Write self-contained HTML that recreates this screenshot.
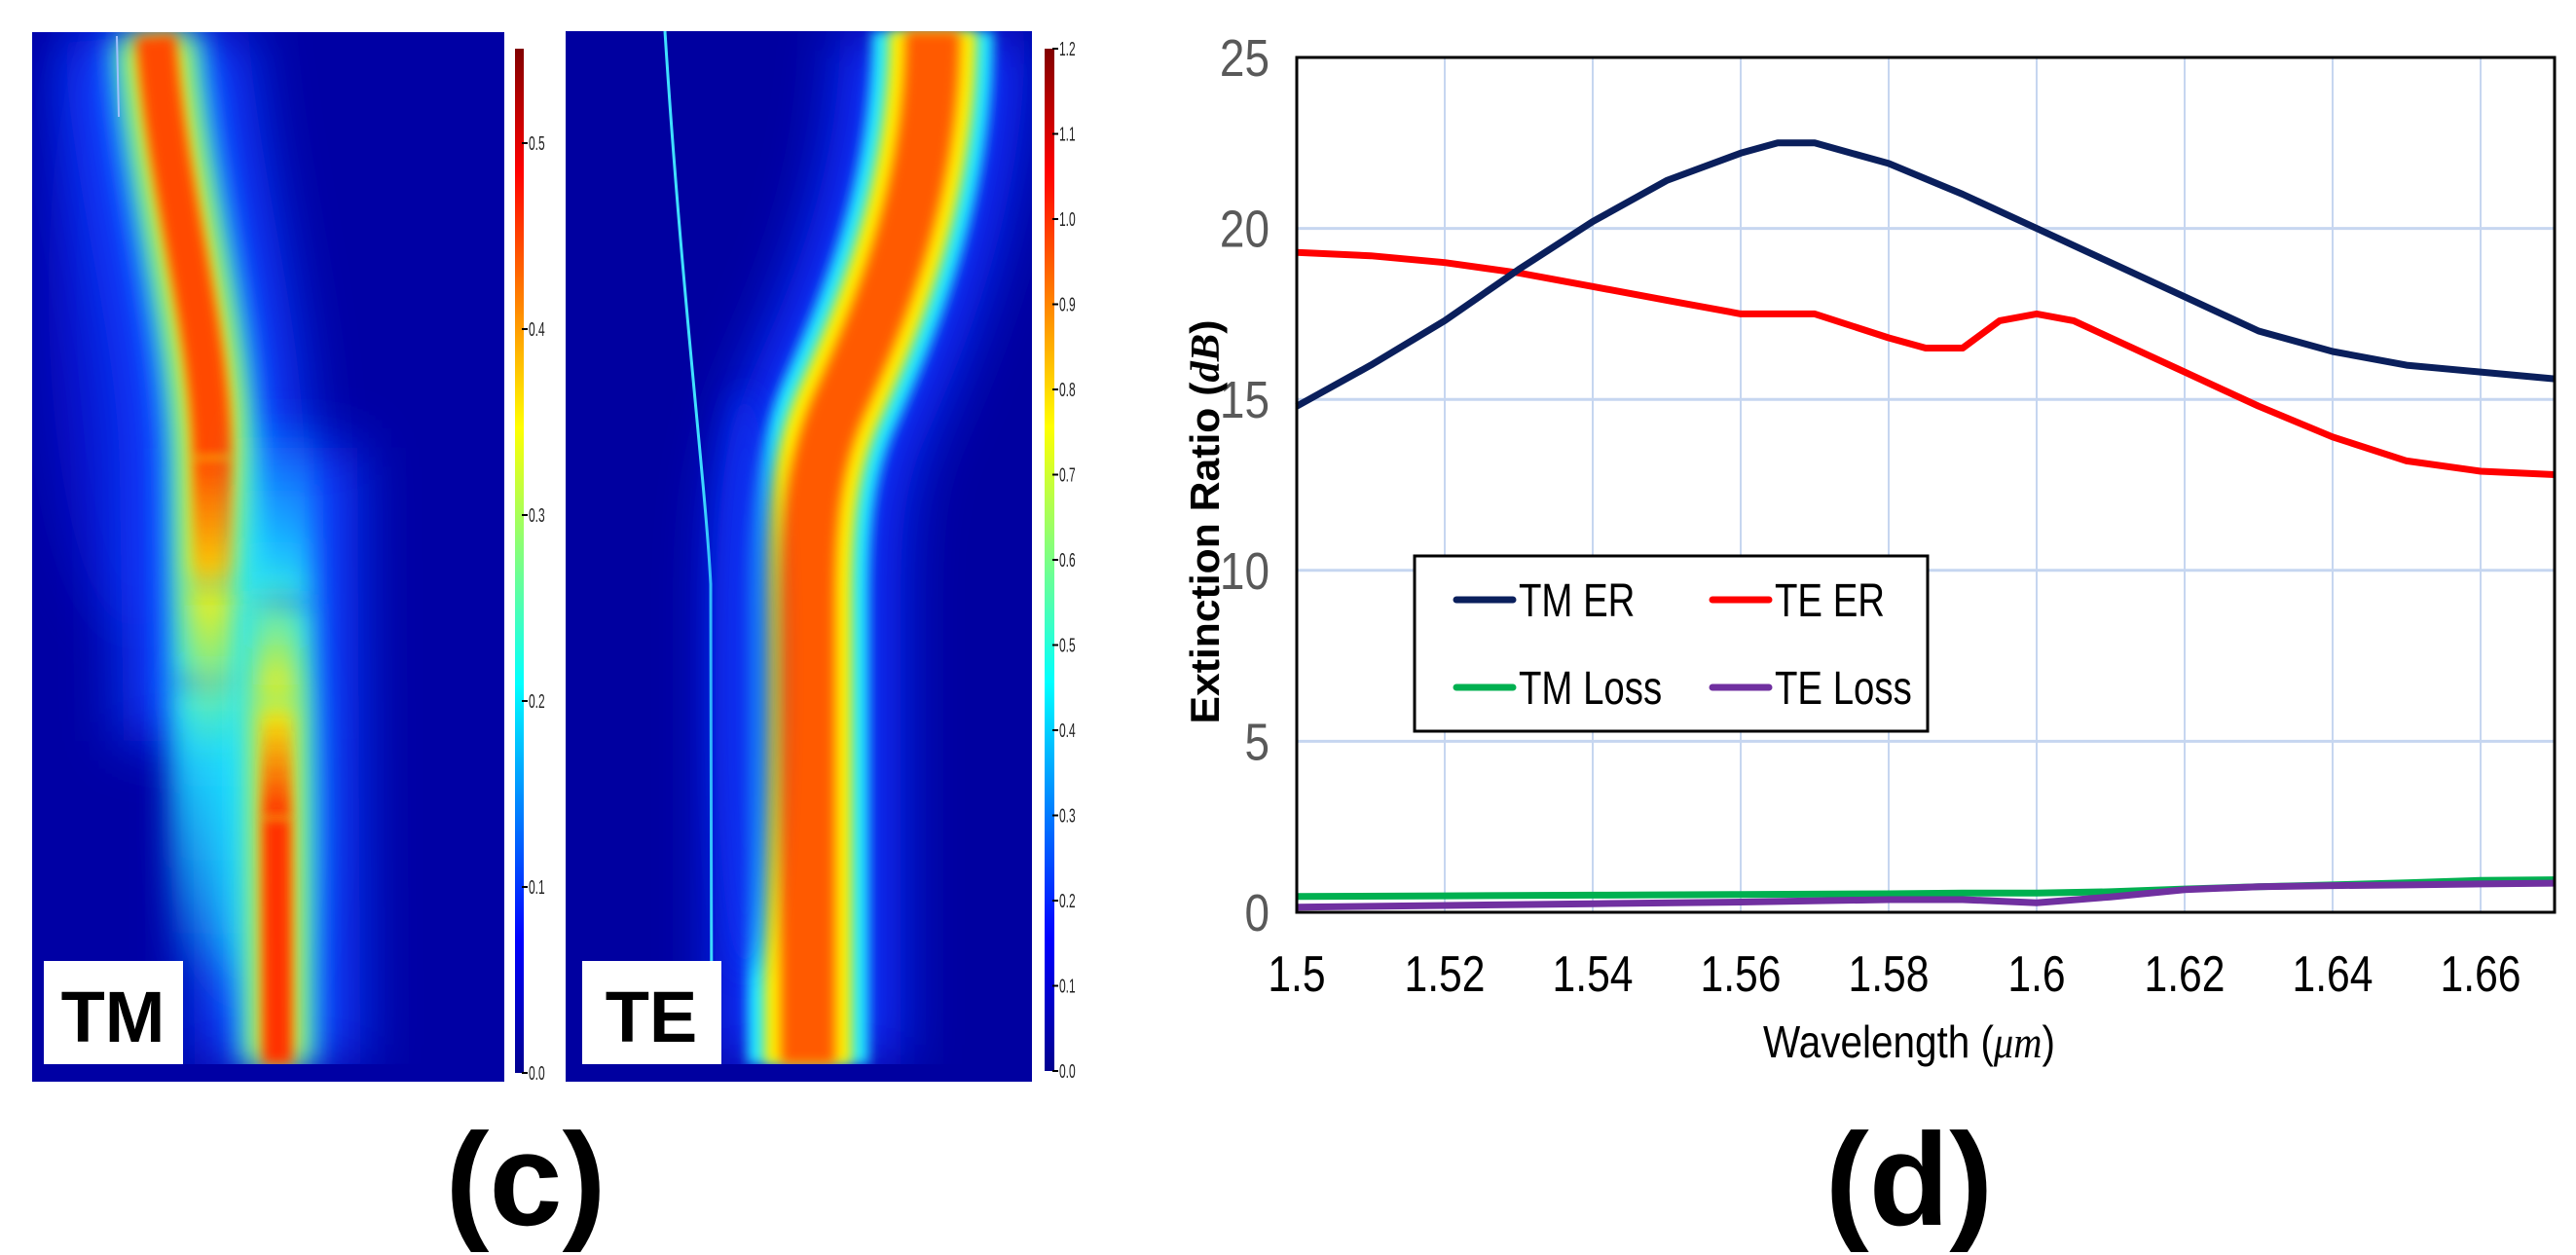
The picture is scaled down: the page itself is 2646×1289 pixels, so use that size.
<!DOCTYPE html>
<html><head><meta charset="utf-8"><style>
html,body{margin:0;padding:0;background:#fff;}
svg{display:block;}
text{font-family:"Liberation Sans",sans-serif;}
</style></head><body>
<svg id="root" width="2646" height="1289" viewBox="0 0 2646 1289" xmlns="http://www.w3.org/2000/svg">
<defs>
  <filter id="b6" filterUnits="userSpaceOnUse" x="0" y="0" width="1100" height="1200"><feGaussianBlur stdDeviation="6"/></filter>
  <filter id="b14" filterUnits="userSpaceOnUse" x="0" y="0" width="1100" height="1200"><feGaussianBlur stdDeviation="14"/></filter>
  <filter id="b30" filterUnits="userSpaceOnUse" x="0" y="0" width="1100" height="1200"><feGaussianBlur stdDeviation="30"/></filter>
  <clipPath id="clipTM"><rect x="33" y="33" width="485" height="1078"/></clipPath>
  <clipPath id="clipTE"><rect x="581" y="32" width="479" height="1079"/></clipPath>
  <linearGradient id="jet" x1="0" y1="0" x2="0" y2="1">
    <stop offset="0" stop-color="#800000"/><stop offset="0.12" stop-color="#ff0000"/>
    <stop offset="0.37" stop-color="#ffff00"/><stop offset="0.62" stop-color="#00ffff"/>
    <stop offset="0.87" stop-color="#0000ff"/><stop offset="1" stop-color="#00008f"/>
  </linearGradient>
  <linearGradient id="upRed" gradientUnits="userSpaceOnUse" x1="0" y1="470" x2="0" y2="620"><stop offset="0" stop-color="#ff4a00"/><stop offset="1" stop-color="#ff4a00" stop-opacity="0"/></linearGradient>
  <linearGradient id="upYel" gradientUnits="userSpaceOnUse" x1="0" y1="600" x2="0" y2="780"><stop offset="0" stop-color="#ffee00"/><stop offset="1" stop-color="#c0f040" stop-opacity="0"/></linearGradient>
  <linearGradient id="upCyan" gradientUnits="userSpaceOnUse" x1="0" y1="720" x2="0" y2="1000"><stop offset="0" stop-color="#20e8ff"/><stop offset="1" stop-color="#20e8ff" stop-opacity="0"/></linearGradient>
  <linearGradient id="lowCyan" gradientUnits="userSpaceOnUse" x1="0" y1="420" x2="0" y2="620"><stop offset="0" stop-color="#20e8ff" stop-opacity="0"/><stop offset="1" stop-color="#20e8ff"/></linearGradient>
  <linearGradient id="lowYel" gradientUnits="userSpaceOnUse" x1="0" y1="580" x2="0" y2="720"><stop offset="0" stop-color="#c0f040" stop-opacity="0"/><stop offset="1" stop-color="#ffee00"/></linearGradient>
  <linearGradient id="lowRed" gradientUnits="userSpaceOnUse" x1="0" y1="730" x2="0" y2="840"><stop offset="0" stop-color="#ff3000" stop-opacity="0"/><stop offset="1" stop-color="#ff3000"/></linearGradient>
</defs>

<!-- TM field map -->
<g clip-path="url(#clipTM)">
  <rect x="33" y="33" width="485" height="1078" fill="#0000a4"/>
  <ellipse cx="140" cy="300" rx="90" ry="350" fill="#0a1ee0" filter="url(#b30)" opacity="0.7"/>
  <path d="M160,37 C172,200 215,330 218,480 L222,760" stroke="#1040ff" stroke-width="190" fill="none" filter="url(#b30)"/>
  <path d="M282,460 L285,1093" stroke="#1040ff" stroke-width="170" fill="none" filter="url(#b30)"/>
  <ellipse cx="255" cy="830" rx="50" ry="190" fill="#20c8f0" filter="url(#b30)" opacity="0.9"/>
  <path d="M160,37 C172,200 215,330 218,480 L222,700" stroke="#20e8ff" stroke-width="95" fill="none" filter="url(#b14)"/>
  <path d="M222,700 L225,1000" stroke="url(#upCyan)" stroke-width="95" fill="none" filter="url(#b14)"/>
  <path d="M160,37 C172,200 215,330 218,480 L220,600" stroke="#ffee00" stroke-width="62" fill="none" filter="url(#b14)"/>
  <path d="M220,600 L222,790" stroke="url(#upYel)" stroke-width="62" fill="none" filter="url(#b14)"/>
  <path d="M160,37 C172,200 215,330 218,470" stroke="#ff4a00" stroke-width="40" fill="none" filter="url(#b6)"/>
  <path d="M218,470 L220,630" stroke="url(#upRed)" stroke-width="40" fill="none" filter="url(#b6)"/>
  <path d="M282,420 L283,620" stroke="url(#lowCyan)" stroke-width="80" fill="none" filter="url(#b14)"/>
  <path d="M283,620 L285,1093" stroke="#20e8ff" stroke-width="80" fill="none" filter="url(#b14)"/>
  <path d="M283,580 L284,720" stroke="url(#lowYel)" stroke-width="48" fill="none" filter="url(#b14)"/>
  <path d="M284,720 L285,1093" stroke="#ffee00" stroke-width="48" fill="none" filter="url(#b14)"/>
  <path d="M284,730 L284,840" stroke="url(#lowRed)" stroke-width="30" fill="none" filter="url(#b6)"/>
  <path d="M284,840 L285,1093" stroke="#ff3000" stroke-width="30" fill="none" filter="url(#b6)"/>
  <rect x="33" y="1093" width="485" height="20" fill="#0000a4"/>
  <path d="M120,37 L122,120" stroke="#a0c0ff" stroke-width="2" fill="none"/>
</g>
<rect x="45" y="987" width="143" height="106" fill="#fff"/>
<text x="116" y="1070" font-size="74" font-weight="bold" text-anchor="middle" fill="#000">TM</text>
<rect x="529" y="50" width="9" height="1052" fill="url(#jet)"/>
<g id="tmTicks"></g>

<!-- TE field map -->
<g clip-path="url(#clipTE)">
  <rect x="581" y="32" width="479" height="1079" fill="#0000a0"/>
  <path d="M958,32 C958,200 900,330 860,420 C835,480 830,540 830,620 L830,1093" stroke="#0a30ff" stroke-width="190" fill="none" filter="url(#b30)"/>
  <path d="M958,32 C958,200 900,330 860,420 C835,480 830,540 830,620 L830,1093" stroke="#20e8ff" stroke-width="125" fill="none" filter="url(#b6)"/>
  <path d="M958,32 C958,200 900,330 860,420 C835,480 830,540 830,620 L830,1093" stroke="#ffee00" stroke-width="90" fill="none" filter="url(#b6)"/>
  <path d="M958,32 C958,200 900,330 860,420 C835,480 830,540 830,620 L830,1093" stroke="#ff5a00" stroke-width="55" fill="none" filter="url(#b6)"/>
  <path d="M683,32 C700,300 725,500 730,600 L731,1093" stroke="#40e0ff" stroke-width="3" fill="none"/>
  <ellipse cx="765" cy="700" rx="30" ry="300" fill="#0a30f0" filter="url(#b14)" opacity="0.7"/>
  <rect x="581" y="1093" width="479" height="20" fill="#0000a0"/>
</g>
<rect x="598" y="987" width="143" height="106" fill="#fff"/>
<text x="669" y="1070" font-size="74" font-weight="bold" text-anchor="middle" fill="#000">TE</text>
<rect x="1073" y="50" width="10" height="1050" fill="url(#jet)"/>
<g id="teTicks"></g>

<text x="540" y="1258" font-size="135" font-weight="bold" text-anchor="middle" fill="#000">(c)</text>
<text x="1961" y="1258" font-size="135" font-weight="bold" text-anchor="middle" fill="#000">(d)</text>

<!-- Chart -->
<g id="chart">
  <g id="grid"></g>
  <g id="series"></g>
  <rect x="1332" y="59" width="1292" height="878" fill="none" stroke="#000" stroke-width="3"/>
  <g id="yticks"></g>
  <g id="xticks"></g>
  <text transform="translate(1252,536) rotate(-90)" font-size="42" font-weight="bold" text-anchor="middle" textLength="415" lengthAdjust="spacingAndGlyphs" fill="#000">Extinction Ratio (<tspan font-family="Liberation Serif,serif" font-style="italic">dB</tspan>)</text>
  <text x="1961" y="1086" font-size="46" text-anchor="middle" fill="#000" transform="translate(1961,0) scale(0.88,1) translate(-1961,0)">Wavelength (<tspan font-family="Liberation Serif,serif" font-style="italic">μm</tspan>)</text>
  <g>
    <rect x="1453" y="571" width="527" height="180" fill="#fff" stroke="#000" stroke-width="3"/>
    <g id="legendItems"></g>
  </g>
</g>
</svg>
<script>
const wl = [1.5,1.51,1.52,1.53,1.54,1.55,1.56,1.565,1.57,1.58,1.59,1.6,1.61,1.62,1.63,1.64,1.65,1.66,1.67];
const tmER = [14.8,16.0,17.3,18.8,20.2,21.4,22.2,22.5,22.5,21.9,21.0,20.0,19.0,18.0,17.0,16.4,16.0,15.8,15.6];
const wlTE = [1.5,1.51,1.52,1.53,1.54,1.55,1.56,1.57,1.58,1.585,1.59,1.595,1.6,1.605,1.61,1.62,1.63,1.64,1.65,1.66,1.67];
const teER = [19.3,19.2,19.0,18.7,18.3,17.9,17.5,17.5,16.8,16.5,16.5,17.3,17.5,17.3,16.8,15.8,14.8,13.9,13.2,12.9,12.8];
const wlLoss = [1.5,1.52,1.54,1.56,1.58,1.59,1.6,1.61,1.62,1.63,1.64,1.65,1.66,1.67];
const tmLoss = [0.46,0.48,0.5,0.52,0.54,0.56,0.56,0.6,0.68,0.75,0.8,0.86,0.93,0.95];
const teLoss = [0.15,0.2,0.25,0.3,0.37,0.37,0.28,0.45,0.66,0.75,0.78,0.8,0.83,0.85];
const xTicks = [1.5,1.52,1.54,1.56,1.58,1.6,1.62,1.64,1.66];
const xTickLabels = ["1.5","1.52","1.54","1.56","1.58","1.6","1.62","1.64","1.66"];
const yTicks = [0,5,10,15,20,25];
const tmBarTicks = [0,0.1,0.2,0.3,0.4,0.5];
const teBarTicks = [0,0.1,0.2,0.3,0.4,0.5,0.6,0.7,0.8,0.9,1.0,1.1,1.2];

const NS = "http://www.w3.org/2000/svg";
function X(v){ return 1332 + (v-1.5)/0.02*152; }
function Y(v){ return 937 - v*35.12; }
function mk(tag, attrs, parent){ const e=document.createElementNS(NS,tag); for(const k in attrs) e.setAttribute(k,attrs[k]); parent.appendChild(e); return e; }

const grid=document.getElementById('grid');
xTicks.forEach(t=>{ if(t>1.5){ const l=mk('line',{x1:X(t),x2:X(t),y1:59,y2:937,stroke:'#c6d6f0','stroke-width':2},grid);

 }});
yTicks.forEach(t=>{ if(t>0&&t<25){ const l=mk('line',{x1:1332,x2:2624,y1:Y(t),y2:Y(t),stroke:'#c6d6f0','stroke-width':3},grid);

 }});

const yt=document.getElementById('yticks');
yTicks.forEach(t=>{ const tx=mk('text',{x:1304,y:Y(t)+19,'font-size':54,'text-anchor':'end',fill:'#595959',transform:`translate(1304,0) scale(0.85,1) translate(-1304,0)`},yt); tx.textContent=String(t);

 });
const xt=document.getElementById('xticks');
xTicks.forEach((t,i)=>{ const x=X(t); const tx=mk('text',{x:x,y:1018,'font-size':52,'text-anchor':'middle',fill:'#000',transform:`translate(${x},0) scale(0.82,1) translate(${-x},0)`},xt); tx.textContent=xTickLabels[i];

 });

function path(xs, ys){ return xs.map((v,i)=>(i?'L':'M')+X(v).toFixed(1)+','+Y(ys[i]).toFixed(1)).join(' '); }
const ser=document.getElementById('series');
const s1=mk('path',{d:path(wlLoss,tmLoss),stroke:'#00b050','stroke-width':7,fill:'none','stroke-linejoin':'round'},ser);


const s2=mk('path',{d:path(wlLoss,teLoss),stroke:'#7030a0','stroke-width':7,fill:'none','stroke-linejoin':'round'},ser);


const s3=mk('path',{d:path(wlTE,teER),stroke:'#ff0000','stroke-width':7,fill:'none','stroke-linejoin':'round'},ser);


const s4=mk('path',{d:path(wl,tmER),stroke:'#0a1f5c','stroke-width':7,fill:'none','stroke-linejoin':'round'},ser);



const legendNames=["TM ER","TE ER","TM Loss","TE Loss"];
const legendColors=["#0a1f5c","#ff0000","#00b050","#7030a0"];
const lg=document.getElementById('legendItems');
legendNames.forEach((n,i)=>{
  const lx = i%2===0 ? 1496 : 1759; const ly = i<2 ? 616 : 706;
  const g=mk('g',{},lg);
  
  
  mk('line',{x1:lx,x2:lx+58,y1:ly,y2:ly,stroke:legendColors[i],'stroke-width':7,'stroke-linecap':'round'},g);
  const tx=mk('text',{x:lx+64,y:ly+17,'font-size':48,fill:'#000',transform:`translate(${lx+64},0) scale(0.8,1) translate(${-(lx+64)},0)`},g);
  tx.textContent=n;
});

function barTicks(id, ticks, x0, yZero, pxPer){
  const g=document.getElementById(id);
  ticks.forEach(t=>{ const y=yZero-t*pxPer;
    mk('line',{x1:x0-2,x2:x0+4,y1:y,y2:y,stroke:'#000','stroke-width':2},g);
    const tx=mk('text',{x:x0+5,y:y+7,'font-size':20,fill:'#222',transform:`translate(${x0+5},0) scale(0.6,1) translate(${-(x0+5)},0)`},g);
    tx.textContent=t.toFixed(1);
    
    
  });
}
barTicks('tmTicks', tmBarTicks, 538, 1102, 1910);
barTicks('teTicks', teBarTicks, 1083, 1100, 875);
</script>
</body></html>
